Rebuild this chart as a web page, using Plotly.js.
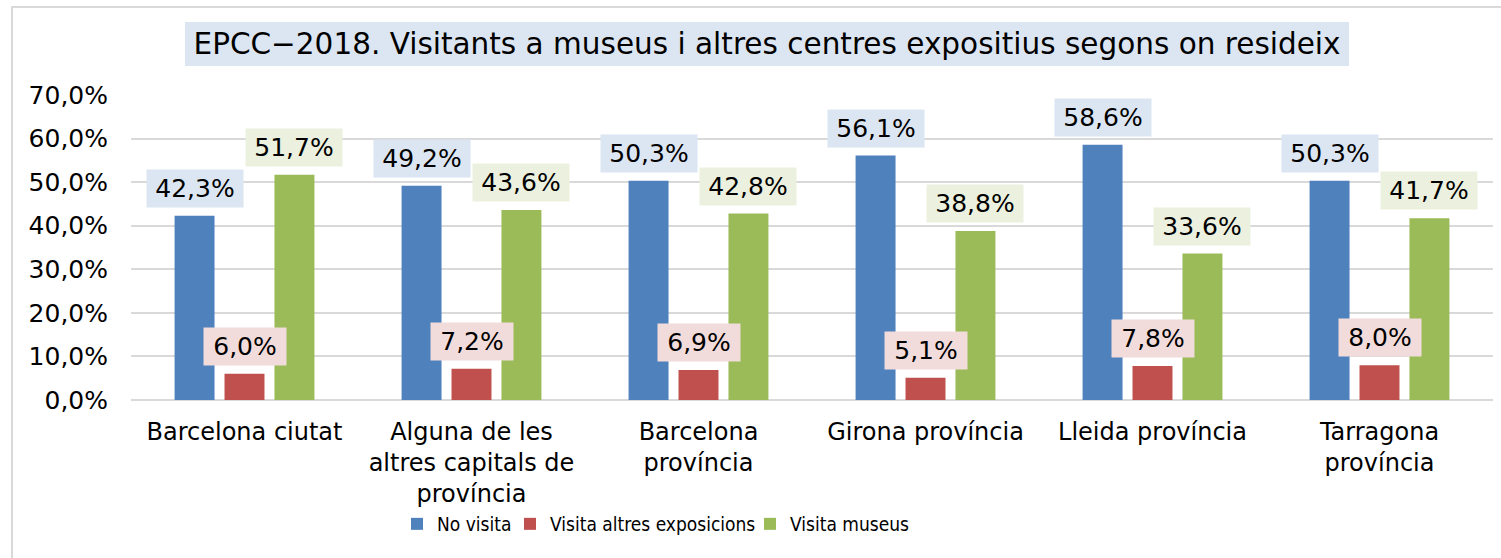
<!DOCTYPE html>
<html>
<head>
<meta charset="utf-8">
<script src="https://cdn.plot.ly/plotly-3.0.1.min.js"></script>
<style>
  html, body { margin: 0; padding: 0; background: #ffffff; overflow: hidden; }
  #frame { position: absolute; left: 11px; top: 6px; width: 1700px; height: 800px;
           border: 2px solid #d9d9d9; box-sizing: border-box; pointer-events: none; z-index: 2; }
  #chart { position: absolute; left: 0; top: 0; width: 1501px; height: 558px; }
</style>
</head>
<body>
<div id="chart"></div>
<div id="frame"></div>
<script>
const categories = [
  "Barcelona ciutat",
  "Alguna de les<br>altres capitals de<br>província",
  "Barcelona<br>província",
  "Girona província",
  "Lleida província",
  "Tarragona<br>província"
];
const seriesNames = ["No visita", "Visita altres exposicions", "Visita museus"];
const noVisita = [42.3, 49.2, 50.3, 56.1, 58.6, 50.3];
const visitaAltres = [6.0, 7.2, 6.9, 5.1, 7.8, 8.0];
const visitaMuseus = [51.7, 43.6, 42.8, 38.8, 33.6, 41.7];
const yTicks = [0, 10, 20, 30, 40, 50, 60, 70];
const yTickText = ["0,0%", "10,0%", "20,0%", "30,0%", "40,0%", "50,0%", "60,0%", "70,0%"];

const seriesValues = [noVisita, visitaAltres, visitaMuseus];
const barColors = ["#4f81bd", "#c0504d", "#9bbb59"];
const labelBg = ["#dce6f2", "#f2dcdb", "#ebf1de"];
const FONT = "DejaVu Sans, Verdana, sans-serif";
const LEGEND_FONT = "DejaVu Sans Condensed, DejaVu Sans, sans-serif";

const bargap = 0.34;
const slot = (1 - bargap) / 3;
const legendIds = ["legend", "legend2", "legend3"];
const legendLeftPx = [397, 510, 750];

const traces = seriesValues.map((vals, s) => ({
  type: "bar",
  name: seriesNames[s],
  x: categories,
  y: vals,
  legend: legendIds[s],
  marker: { color: barColors[s] },
  hoverinfo: "x+y+name"
}));

const fmt = v => v.toFixed(1).replace(".", ",") + "%";

const annotations = [];
seriesValues.forEach((vals, s) => {
  vals.forEach((v, i) => {
    annotations.push({
      xref: "x", yref: "y",
      x: i + (s - 1) * slot,
      y: v,
      text: fmt(v),
      showarrow: false,
      xanchor: "center", yanchor: "bottom",
      yshift: 8,
      bgcolor: labelBg[s],
      borderpad: 0,
      width: (s === 1 ? 82 : 96),
      height: 37,
      font: { family: FONT, size: 25, color: "#000000" }
    });
  });
});

const layout = {
  width: 1501, height: 558,
  margin: { l: 131, r: 8, t: 95, b: 158 },
  paper_bgcolor: "rgba(0,0,0,0)",
  plot_bgcolor: "#ffffff",
  barmode: "group",
  bargap: bargap,
  bargroupgap: 0.2,
  title: {
    text: "EPCC\u22122018. Visitants a museus i altres centres expositius segons on resideix",
    font: { family: FONT, size: 29.5, color: "#000000" },
    x: 0.511, xref: "container", xanchor: "center",
    y: 0.921, yref: "container", yanchor: "middle"
  },
  shapes: [{
    type: "rect", xref: "paper", yref: "paper", layer: "below",
    x0: (185 - 131) / 1362, x1: (1349 - 131) / 1362,
    y0: (400 - 66) / 305, y1: (400 - 22) / 305,
    fillcolor: "#dce6f2", line: { width: 0 }
  }],
  xaxis: {
    type: "category",
    tickfont: { family: FONT, size: 24, color: "#000000" },
    ticks: "", showgrid: false, showline: false, zeroline: false,
    ticklabelstandoff: 15,
    tickangle: 0
  },
  yaxis: {
    range: [0, 70],
    tickmode: "array",
    tickvals: yTicks,
    ticktext: yTickText,
    tickfont: { family: FONT, size: 25, color: "#000000" },
    showgrid: true, gridcolor: "#d9d9d9", gridwidth: 2,
    zeroline: true, zerolinecolor: "#d9d9d9", zerolinewidth: 2,
    showline: false, ticks: "",
    ticklabelstandoff: 22
  },
  showlegend: true,
  annotations: annotations
};

legendIds.forEach((id, s) => {
  layout[id] = {
    orientation: "h",
    x: (legendLeftPx[s] - 131) / 1362, xanchor: "left",
    y: (400 - 524) / 305, yanchor: "middle",
    font: { family: LEGEND_FONT, size: 19, color: "#000000" },
    itemwidth: 30,
    bgcolor: "rgba(0,0,0,0)"
  };
});

Plotly.newPlot("chart", traces, layout, { displayModeBar: false, staticPlot: true });
</script>
</body>
</html>
